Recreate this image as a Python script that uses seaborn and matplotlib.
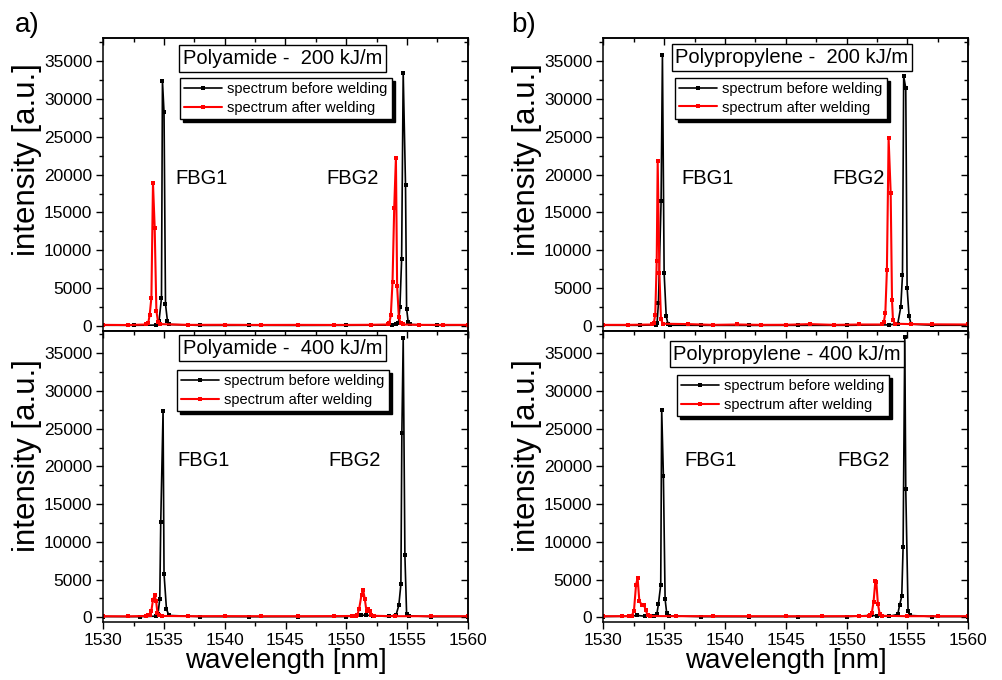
import matplotlib
matplotlib.use("Agg")
import matplotlib.pyplot as plt
import seaborn as sns
from matplotlib.ticker import MultipleLocator

sns.set_theme(style="ticks")
plt.rcParams['font.family'] = ['Liberation Sans', 'DejaVu Sans']
plt.rcParams['text.color'] = 'black'
plt.rcParams['axes.labelcolor'] = 'black'
plt.rcParams['xtick.color'] = 'black'
plt.rcParams['ytick.color'] = 'black'
plt.rcParams['axes.edgecolor'] = 'black'

# ---------------- data ----------------
# Panel a) top : Polyamide 200 kJ/m
pa200_before_wl = [1530.0, 1532.5, 1534.3, 1534.47, 1534.59, 1534.79, 1534.87, 1535.00, 1535.12, 1535.28, 1535.45,
                   1538, 1542, 1546, 1550, 1553.8, 1554.1, 1554.3, 1554.42, 1554.56, 1554.69, 1554.88, 1554.97,
                   1555.10, 1555.25, 1557.5, 1560.0]
pa200_before_I = [100, 90, 120, 250, 700, 3700, 32400, 28200, 2900, 660, 200,
                  80, 90, 80, 90, 120, 250, 400, 2500, 8800, 33450, 18600, 2300,
                  530, 200, 90, 100]
pa200_after_wl = [1530.0, 1532, 1533.5, 1533.7, 1533.82, 1533.96, 1534.09, 1534.23, 1534.37, 1534.51, 1534.7,
                  1537, 1540, 1543, 1546, 1549, 1552, 1553.4, 1553.55, 1553.67, 1553.81, 1553.95, 1554.09,
                  1554.19, 1554.33, 1554.47, 1554.65, 1556, 1558, 1560]
pa200_after_I = [150, 130, 200, 400, 1500, 3750, 18900, 13000, 2000, 500, 250,
                 150, 160, 140, 150, 140, 160, 200, 400, 1400, 5800, 15600, 22200,
                 5250, 1200, 350, 200, 150, 150, 150]

# Panel a) bottom : Polyamide 400 kJ/m
pa400_before_wl = [1530, 1533, 1534.3, 1534.5, 1534.65, 1534.73, 1534.92, 1535.0, 1535.2, 1535.4,
                   1538, 1542, 1546, 1550, 1551.2, 1551.6, 1552.2, 1553.5, 1554.1, 1554.33, 1554.50,
                   1554.58, 1554.69, 1554.83, 1554.97, 1555.15, 1557, 1560]
pa400_before_I = [100, 90, 150, 400, 2460, 12700, 27300, 5770, 1100, 250,
                  90, 80, 90, 100, 250, 300, 200, 120, 300, 1600, 4400,
                  24400, 37000, 8200, 440, 200, 90, 100]
pa400_after_wl = [1530, 1532, 1533.5, 1533.7, 1533.82, 1533.96, 1534.09, 1534.23, 1534.34, 1534.46, 1534.59,
                  1534.8, 1537, 1540, 1543, 1546, 1549, 1550.5, 1550.78, 1550.90, 1551.06, 1551.26, 1551.39,
                  1551.53, 1551.67, 1551.80, 1551.92, 1552.08, 1552.3, 1554, 1557, 1560]
pa400_after_I = [150, 130, 180, 250, 350, 900, 2300, 2950, 2200, 600, 250,
                 180, 150, 160, 150, 150, 160, 180, 220, 260, 1100, 3000, 3650,
                 2400, 800, 1050, 900, 350, 200, 150, 150, 150]

# Panel b) top : Polypropylene 200 kJ/m
pp200_before_wl = [1530, 1533, 1534.3, 1534.42, 1534.53, 1534.75, 1534.86, 1535.00, 1535.17, 1535.32, 1535.5,
                   1538, 1542, 1546, 1550, 1553.5, 1554.2, 1554.45, 1554.59, 1554.69, 1554.86, 1554.97,
                   1555.13, 1555.3, 1557, 1560]
pp200_before_I = [100, 90, 150, 400, 3000, 16500, 35800, 7000, 1300, 250, 100,
                  90, 80, 90, 90, 150, 300, 2500, 6700, 33000, 31400, 5080,
                  1280, 250, 100, 100]
pp200_after_wl = [1530, 1532, 1534.0, 1534.15, 1534.27, 1534.39, 1534.47, 1534.61, 1534.74, 1534.9,
                  1537, 1539, 1541, 1543, 1545, 1547, 1549, 1551, 1552.9, 1553.05, 1553.18, 1553.31,
                  1553.45, 1553.62, 1553.73, 1553.81, 1554.0, 1555.3, 1557, 1560]
pp200_after_I = [150, 150, 200, 400, 1500, 8550, 21800, 7060, 900, 300,
                 250, 150, 200, 150, 160, 250, 150, 200, 200, 500, 1700, 7400,
                 24800, 17600, 3400, 750, 300, 250, 220, 200]

# Panel b) bottom : Polypropylene 400 kJ/m
pp400_before_wl = [1530, 1532.2, 1532.8, 1533.4, 1534.2, 1534.4, 1534.53, 1534.72, 1534.80, 1534.94, 1535.08,
                   1535.21, 1535.4, 1538, 1542, 1546, 1550, 1552, 1552.5, 1553.5, 1554.2, 1554.36,
                   1554.53, 1554.64, 1554.78, 1554.86, 1555.05, 1555.2, 1557, 1560]
pp400_before_I = [100, 150, 250, 150, 150, 400, 1760, 4300, 27500, 18700, 2400,
                  570, 200, 90, 90, 90, 100, 250, 200, 120, 400, 1670,
                  2780, 9270, 37200, 17000, 800, 250, 100, 100]
pp400_after_wl = [1530, 1531.5, 1532.1, 1532.32, 1532.52, 1532.69, 1532.82, 1532.96, 1533.15, 1533.35, 1533.48,
                  1533.64, 1533.85, 1536, 1539, 1542, 1545, 1548, 1551, 1551.8, 1551.94, 1552.07, 1552.21,
                  1552.36, 1552.44, 1552.57, 1552.72, 1552.9, 1555, 1557.5, 1560]
pp400_after_I = [150, 150, 160, 150, 870, 4300, 5200, 2200, 1670, 1600, 1000,
                 260, 170, 150, 160, 150, 150, 150, 160, 180, 250, 570, 2030,
                 4770, 4700, 1760, 440, 200, 150, 150, 150]

titles = ["Polyamide -  200 kJ/m", "Polypropylene -  200 kJ/m",
          "Polyamide -  400 kJ/m", "Polypropylene - 400 kJ/m"]
series_labels = ["spectrum before welding", "spectrum after welding"]
x_ticks = [1530, 1535, 1540, 1545, 1550, 1555, 1560]
y_ticks = [0, 5000, 10000, 15000, 20000, 25000, 30000, 35000]

# ---------------- layout ----------------
W, H = 1002, 680
fig = plt.figure(figsize=(W / 100, H / 100), dpi=100)

def box(x0, y0, x1, y1):
    return [x0 / W, 1 - y1 / H, (x1 - x0) / W, (y1 - y0) / H]

axes = {
    (0, 0): fig.add_axes(box(103.3, 38.3, 467.7, 330.7)),
    (0, 1): fig.add_axes(box(603.3, 38.3, 968.3, 330.7)),
    (1, 0): fig.add_axes(box(103.3, 330.7, 467.7, 622.0)),
    (1, 1): fig.add_axes(box(603.3, 330.7, 968.3, 622.0)),
}

panels = {
    (0, 0): (pa200_before_wl, pa200_before_I, pa200_after_wl, pa200_after_I),
    (0, 1): (pp200_before_wl, pp200_before_I, pp200_after_wl, pp200_after_I),
    (1, 0): (pa400_before_wl, pa400_before_I, pa400_after_wl, pa400_after_I),
    (1, 1): (pp400_before_wl, pp400_before_I, pp400_after_wl, pp400_after_I),
}

title_pos = {(0, 0): (1544.75, 35330), (0, 1): (1545.5, 35460),
             (1, 0): (1544.75, 35700), (1, 1): (1545.1, 34900)}
legend_pos = {(0, 0): (0.21, 0.864), (0, 1): (0.196, 0.865),
              (1, 0): (0.202, 0.865), (1, 1): (0.202, 0.848)}
fbg_pos = {(0, 0): ((1535.9, 19500), (1548.4, 19500)),
           (0, 1): ((1536.4, 19500), (1548.85, 19500)),
           (1, 0): ((1536.1, 20800), (1548.5, 20800)),
           (1, 1): ((1536.7, 20800), (1549.2, 20800))}
ylabel_y = {0: 0.584, 1: 0.573}

for key, ax in axes.items():
    r, c = key
    bwl, bI, awl, aI = panels[key]
    sns.lineplot(x=bwl, y=bI, ax=ax, color="black", linewidth=1.2, marker="s",
                 markersize=2.6, markeredgewidth=0, sort=False, estimator=None,
                 label=series_labels[0])
    sns.lineplot(x=awl, y=aI, ax=ax, color="#ff0000", linewidth=1.5, marker="s",
                 markersize=2.6, markeredgewidth=0, sort=False, estimator=None,
                 label=series_labels[1])
    ax.set_xlim(1530, 1560)
    ax.set_ylim(-620, 38000)
    ax.set_xticks(x_ticks)
    ax.set_yticks(y_ticks)
    ax.xaxis.set_minor_locator(MultipleLocator(2.5))
    ax.yaxis.set_minor_locator(MultipleLocator(2500))
    ax.tick_params(which="major", direction="out", length=5, width=1, labelsize=12.5,
                   colors="black", pad=3)
    ax.tick_params(which="minor", direction="out", length=3, width=1)
    for sp in ax.spines.values():
        sp.set_linewidth(1.1)
        sp.set_color("black")
        sp.set_visible(True)
    sec_x = ax.secondary_xaxis("top")
    sec_x.set_xticks(x_ticks)
    sec_x.xaxis.set_minor_locator(MultipleLocator(2.5))
    sec_x.tick_params(which="major", direction="in", length=5, width=1, labeltop=False)
    sec_x.tick_params(which="minor", direction="in", length=3, width=1)
    sec_x.spines["top"].set_linewidth(1.1)
    sec_y = ax.secondary_yaxis("right")
    sec_y.set_yticks(y_ticks)
    sec_y.yaxis.set_minor_locator(MultipleLocator(2500))
    sec_y.tick_params(which="major", direction="in", length=5, width=1, labelright=False)
    sec_y.tick_params(which="minor", direction="in", length=3, width=1)
    sec_y.spines["right"].set_linewidth(1.1)

    ax.set_ylabel("intensity [a.u.]", fontsize=22.5)
    ax.yaxis.set_label_coords(-0.168, ylabel_y[r])
    if r == 0:
        ax.tick_params(axis="x", labelbottom=False)
        ax.set_xlabel("")
    else:
        ax.set_xlabel("wavelength [nm]", fontsize=20, labelpad=0)

    tx, ty = title_pos[key]
    ax.text(tx, ty, titles[key[0] * 2 + key[1]], ha="center", va="center", fontsize=14.5,
            bbox=dict(boxstyle="square,pad=0.18", fc="white", ec="black", lw=1.0), zorder=6)
    (f1x, f1y), (f2x, f2y) = fbg_pos[key]
    ax.text(f1x, f1y, "FBG1", ha="left", va="center", fontsize=14.5)
    ax.text(f2x, f2y, "FBG2", ha="left", va="center", fontsize=14.5)

    leg = ax.legend(loc="upper left", bbox_to_anchor=legend_pos[key], fontsize=10.5,
                    frameon=True, fancybox=False, shadow={"color": "black", "alpha": 1},
                    borderpad=0.3, labelspacing=0.3, handlelength=2.6, handletextpad=0.35,
                    borderaxespad=0.0)
    leg.get_frame().set_edgecolor("black")
    leg.get_frame().set_linewidth(1.0)
    leg.set_zorder(7)

fig.text(15 / W, 1 - 25.5 / H, "a)", fontsize=20, ha="left", va="center")
fig.text(511 / W, 1 - 25.5 / H, "b)", fontsize=20, ha="left", va="center")

fig.savefig("out.png", dpi=100)
